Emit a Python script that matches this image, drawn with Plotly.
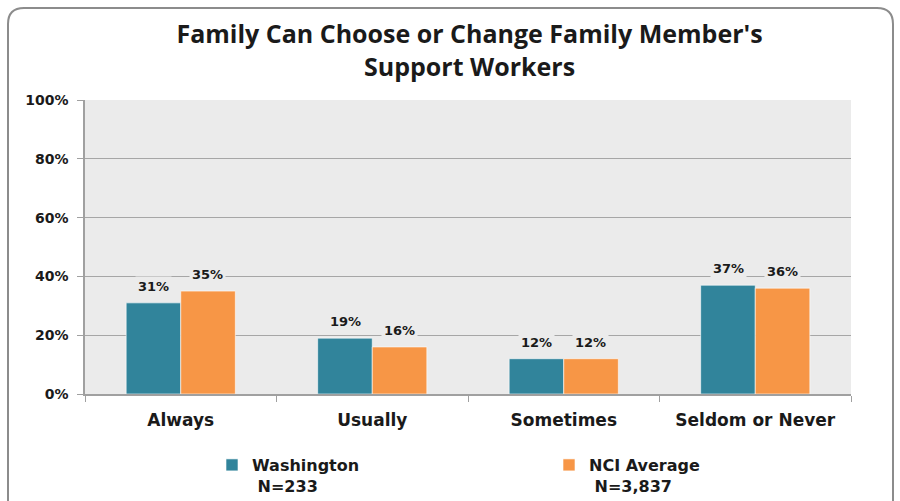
import plotly.graph_objects as go

categories = ["Always", "Usually", "Sometimes", "Seldom or Never"]
washington = [31, 19, 12, 37]
nci_average = [35, 16, 12, 36]
series_names = ["Washington<br> N=233", "NCI Average<br> N=3,837"]
tick_values = [0, 20, 40, 60, 80, 100]
tick_labels = ["0%", "20%", "40%", "60%", "80%", "100%"]

TEAL = "#31849B"
ORANGE = "#F79646"
PLOT_BG = "#EBEBEB"
GRID = "#A6A6A6"
TICK_FONT = "DejaVu Sans"
INK = "#1a1a1a"

W, H = 900, 501
ML, MR, MT, MB = 85, 49, 100, 107
PW, PH = W - ML - MR, H - MT - MB


def px(x):
    return (x - ML) / PW


def py(y):
    return (H - MB - y) / PH


fig = go.Figure()
legend_ids = ["legend", "legend2"]
for name, vals, col, lg in [(series_names[0], washington, TEAL, legend_ids[0]),
                            (series_names[1], nci_average, ORANGE, legend_ids[1])]:
    fig.add_trace(go.Bar(
        x=categories, y=vals, name=name, legend=lg, showlegend=True,
        marker=dict(color=col, line=dict(color="white", width=0.6)),
        hoverinfo="skip",
    ))

# value labels sit above each bar on a patch of the plot background
bar_offset = 27
for vals, shift in [(washington, -bar_offset), (nci_average, bar_offset)]:
    for cat, v in zip(categories, vals):
        fig.add_annotation(
            x=cat, y=v, text=f"{v}%", showarrow=False,
            xshift=shift, yanchor="bottom", yshift=6,
            font=dict(family=TICK_FONT, size=13, color=INK, weight="bold"),
            bgcolor=PLOT_BG, borderpad=2,
        )

# rounded outer frame, in paper coordinates
x0, x1, y0, y1, r = 8, 893, 8, 520, 16
path = (
    f"M {px(x0)},{py(y1)} L {px(x0)},{py(y0 + r)} "
    f"Q {px(x0)},{py(y0)} {px(x0 + r)},{py(y0)} "
    f"L {px(x1 - r)},{py(y0)} "
    f"Q {px(x1)},{py(y0)} {px(x1)},{py(y0 + r)} "
    f"L {px(x1)},{py(y1)}"
)
fig.add_shape(type="path", path=path, xref="paper", yref="paper",
              line=dict(color="#8C8C8C", width=2), layer="below")


def legend_at(x_pixel):
    return dict(
        x=px(x_pixel), y=py(448), xanchor="left", yanchor="top",
        font=dict(family=TICK_FONT, size=16, color=INK, weight="bold"),
        itemwidth=30, valign="top", bgcolor="rgba(0,0,0,0)",
    )


fig.update_layout(
    width=W, height=H,
    margin=dict(l=ML, r=MR, t=MT, b=MB, autoexpand=False),
    paper_bgcolor="white",
    plot_bgcolor=PLOT_BG,
    showlegend=True,
    barmode="group",
    bargap=0.43,
    bargroupgap=0,
    title=dict(
        text="Family Can Choose or Change Family Member's<br>Support Workers",
        x=0.502, xanchor="center", xref="paper",
        y=1 - 43 / H, yanchor="top",
        font=dict(family="Open Sans", size=25, color=INK, weight="bold"),
    ),
    font=dict(family=TICK_FONT, color=INK),
    legend=legend_at(212),
    legend2=legend_at(549),
    xaxis=dict(
        showline=True, linecolor="#A0A0A0", linewidth=1.5,
        ticks="outside", ticklen=6, tickcolor="#A0A0A0",
        tickson="boundaries", ticklabelstandoff=10,
        tickfont=dict(family=TICK_FONT, size=17, color=INK, weight="bold"),
        showgrid=False,
    ),
    yaxis=dict(
        range=[0, 100], tickvals=tick_values, ticktext=tick_labels,
        showline=True, linecolor="#A0A0A0", linewidth=1.5,
        ticks="outside", ticklen=6, tickcolor="#A0A0A0",
        ticklabelstandoff=6,
        showgrid=True, gridcolor=GRID, gridwidth=1,
        tickfont=dict(family=TICK_FONT, size=14, color=INK, weight="bold"),
        zeroline=False,
    ),
)

fig.write_html("out.html")
